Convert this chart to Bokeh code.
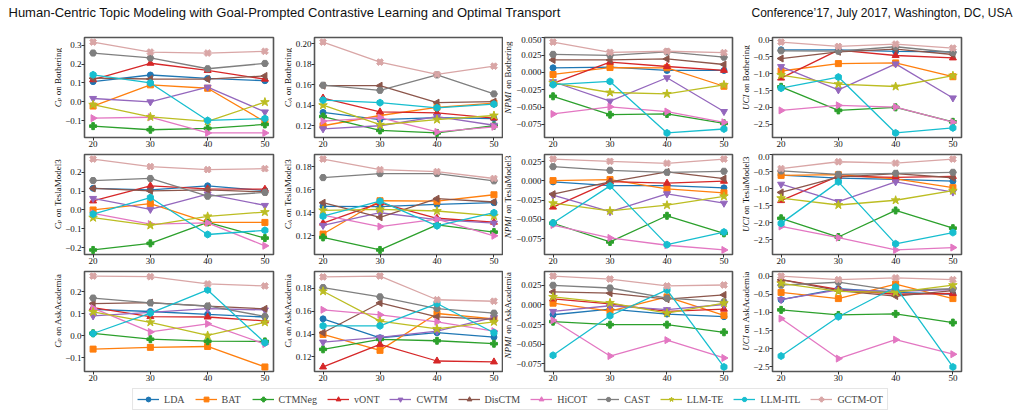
import math
from bokeh.plotting import figure
from bokeh.layouts import column, row
from bokeh.models import (FixedTicker, CustomJSTickFormatter, Range1d,
                          Legend, LegendItem, ColumnDataSource)
from bokeh.embed import file_html
from bokeh.resources import INLINE
from bokeh.core.properties import value

# ---------------- data ----------------
TOPICS = [20, 30, 40, 50]
METHODS = ["LDA", "BAT", "CTMNeg", "vONT", "CWTM", "DisCTM", "HiCOT",
           "CAST", "LLM-TE", "LLM-ITL", "GCTM-OT"]
DATASETS = ["Bothering", "TeslaModel3", "AskAcademia"]
HEADER_LEFT = "Human-Centric Topic Modeling with Goal-Prompted Contrastive Learning and Optimal Transport"
HEADER_RIGHT = "Conference\u201917, July 2017, Washington, DC, USA"

CP_BOTHERING = {
    "LDA": [0.107, 0.142, 0.124, 0.112],
    "BAT": [-0.022, 0.090, 0.072, -0.105],
    "CTMNeg": [-0.128, -0.147, -0.140, -0.119],
    "vONT": [0.117, 0.204, 0.166, 0.120],
    "CWTM": [0.018, 0.000, 0.078, -0.053],
    "DisCTM": [0.125, 0.121, 0.120, 0.137],
    "HiCOT": [-0.086, -0.081, -0.164, -0.164],
    "CAST": [0.258, 0.232, 0.175, 0.203],
    "LLM-TE": [-0.015, -0.079, -0.103, -0.001],
    "LLM-ITL": [0.143, 0.100, -0.098, -0.088],
    "GCTM-OT": [0.316, 0.263, 0.258, 0.267],
}
CA_BOTHERING = {
    "LDA": [0.133, 0.126, 0.128, 0.127],
    "BAT": [0.120, 0.130, 0.138, 0.142],
    "CTMNeg": [0.129, 0.1155, 0.113, 0.120],
    "vONT": [0.147, 0.1335, 0.1325, 0.1275],
    "CWTM": [0.117, 0.120, 0.129, 0.1205],
    "DisCTM": [0.159, 0.159, 0.1425, 0.1435],
    "HiCOT": [0.1245, 0.128, 0.114, 0.119],
    "CAST": [0.1595, 0.1545, 0.1695, 0.151],
    "LLM-TE": [0.140, 0.121, 0.126, 0.130],
    "LLM-ITL": [0.145, 0.1425, 0.1375, 0.141],
    "GCTM-OT": [0.2015, 0.182, 0.170, 0.178],
}
NPMI_BOTHERING = {
    "LDA": [0.0066, 0.0075, 0.0028, 0.0028],
    "BAT": [-0.003, 0.007, 0.0066, -0.020],
    "CTMNeg": [-0.0345, -0.061, -0.060, -0.0735],
    "vONT": [-0.016, 0.0147, 0.0085, 0.003],
    "CWTM": [-0.0135, -0.0415, -0.0077, -0.0565],
    "DisCTM": [0.018, 0.018, 0.0195, 0.0114],
    "HiCOT": [-0.060, -0.0497, -0.0565, -0.072],
    "CAST": [0.026, 0.0247, 0.0295, 0.022],
    "LLM-TE": [-0.015, -0.029, -0.031, -0.018],
    "LLM-ITL": [-0.0177, -0.013, -0.0874, -0.0817],
    "GCTM-OT": [0.0438, 0.029, 0.0305, 0.0285],
}
UCI_BOTHERING = {
    "LDA": [-0.29, -0.29, -0.34, -0.35],
    "BAT": [-0.92, -0.70, -0.68, -1.09],
    "CTMNeg": [-1.39, -2.09, -2.00, -2.43],
    "vONT": [-1.13, -0.30, -0.46, -0.53],
    "CWTM": [-0.79, -1.48, -0.71, -1.72],
    "DisCTM": [-0.55, -0.35, -0.27, -0.43],
    "HiCOT": [-2.09, -1.94, -1.99, -2.44],
    "CAST": [-0.32, -0.33, -0.20, -0.37],
    "LLM-TE": [-1.04, -1.31, -1.38, -1.06],
    "LLM-ITL": [-1.43, -1.10, -2.76, -2.61],
    "GCTM-OT": [-0.06, -0.19, -0.12, -0.24],
}
CP_TESLA = {
    "LDA": [0.115, 0.107, 0.128, 0.103],
    "BAT": [0.000, 0.034, -0.066, -0.066],
    "CTMNeg": [-0.212, -0.177, -0.066, -0.149],
    "vONT": [0.048, 0.128, 0.112, 0.110],
    "CWTM": [0.061, 0.003, 0.084, 0.024],
    "DisCTM": [0.114, 0.101, 0.107, 0.096],
    "HiCOT": [-0.018, -0.075, -0.068, -0.190],
    "CAST": [0.156, 0.167, 0.073, 0.093],
    "LLM-TE": [-0.041, -0.082, -0.034, -0.011],
    "LLM-ITL": [-0.022, 0.066, -0.130, -0.108],
    "GCTM-OT": [0.270, 0.230, 0.214, 0.219],
}
CA_TESLA = {
    "LDA": [0.1456, 0.1453, 0.1473, 0.1487],
    "BAT": [0.1215, 0.1504, 0.1500, 0.1556],
    "CTMNeg": [0.1186, 0.1077, 0.1295, 0.1232],
    "vONT": [0.1310, 0.1485, 0.1352, 0.1318],
    "CWTM": [0.1290, 0.1400, 0.1340, 0.1310],
    "DisCTM": [0.1487, 0.1360, 0.1522, 0.1493],
    "HiCOT": [0.1380, 0.1280, 0.1344, 0.1200],
    "CAST": [0.1705, 0.1740, 0.1740, 0.1677],
    "LLM-TE": [0.1420, 0.1430, 0.1415, 0.1372],
    "LLM-ITL": [0.1370, 0.1500, 0.1286, 0.1400],
    "GCTM-OT": [0.1866, 0.1774, 0.1757, 0.1697],
}
NPMI_TESLA = {
    "LDA": [-0.0013, -0.006, -0.006, -0.009],
    "BAT": [0.0004, 0.0017, -0.0103, -0.0155],
    "CTMNeg": [-0.055, -0.0793, -0.0453, -0.0681],
    "vONT": [-0.034, -0.001, -0.003, -0.0004],
    "CWTM": [-0.0185, -0.040, -0.0168, -0.029],
    "DisCTM": [-0.0172, -0.0013, 0.0116, 0.003],
    "HiCOT": [-0.0573, -0.0741, -0.0836, -0.0897],
    "CAST": [0.0185, 0.0138, 0.0112, 0.0125],
    "LLM-TE": [-0.029, -0.039, -0.0315, -0.020],
    "LLM-ITL": [-0.0547, -0.0065, -0.0828, -0.0664],
    "GCTM-OT": [0.0284, 0.0254, 0.0228, 0.0284],
}
UCI_TESLA = {
    "LDA": [-0.60, -0.69, -0.73, -0.78],
    "BAT": [-0.61, -0.59, -0.71, -0.97],
    "CTMNeg": [-1.87, -2.42, -1.64, -2.16],
    "vONT": [-1.35, -0.63, -0.67, -0.64],
    "CWTM": [-0.87, -1.38, -0.80, -1.10],
    "DisCTM": [-1.11, -0.66, -0.56, -0.68],
    "HiCOT": [-2.11, -2.44, -2.80, -2.73],
    "CAST": [-0.48, -0.58, -0.55, -0.52],
    "LLM-TE": [-1.28, -1.48, -1.34, -1.06],
    "LLM-ITL": [-2.02, -0.80, -2.62, -2.29],
    "GCTM-OT": [-0.41, -0.21, -0.25, -0.13],
}
CP_ASK = {
    "LDA": [0.120, 0.110, 0.097, 0.085],
    "BAT": [-0.061, -0.053, -0.049, -0.142],
    "CTMNeg": [0.011, -0.016, -0.025, -0.026],
    "vONT": [0.128, 0.087, 0.085, 0.067],
    "CWTM": [0.090, 0.106, 0.123, 0.117],
    "DisCTM": [0.146, 0.150, 0.134, 0.122],
    "HiCOT": [0.125, 0.017, 0.054, -0.038],
    "CAST": [0.171, 0.149, 0.135, 0.088],
    "LLM-TE": [0.108, 0.061, 0.001, 0.061],
    "LLM-ITL": [0.010, 0.103, 0.208, -0.032],
    "GCTM-OT": [0.271, 0.268, 0.235, 0.226],
}
CA_ASK = {
    "LDA": [0.1533, 0.1368, 0.1412, 0.1374],
    "BAT": [0.1397, 0.1258, 0.1580, 0.1533],
    "CTMNeg": [0.1267, 0.1354, 0.1342, 0.1316],
    "vONT": [0.1113, 0.1310, 0.1165, 0.1157],
    "CWTM": [0.1330, 0.1371, 0.1426, 0.1545],
    "DisCTM": [0.1412, 0.1672, 0.1550, 0.1528],
    "HiCOT": [0.1612, 0.1568, 0.1507, 0.1426],
    "CAST": [0.1806, 0.1725, 0.1623, 0.1583],
    "LLM-TE": [0.1774, 0.1513, 0.1446, 0.1507],
    "LLM-ITL": [0.1472, 0.1472, 0.1667, 0.1412],
    "GCTM-OT": [0.1899, 0.1907, 0.1700, 0.1687],
}
NPMI_ASK = {
    "LDA": [-0.0124, -0.0053, -0.0116, -0.0149],
    "BAT": [0.0023, -0.0078, 0.0103, -0.0132],
    "CTMNeg": [-0.0212, -0.025, -0.025, -0.0347],
    "vONT": [0.0078, 0.0013, -0.0082, -0.0053],
    "CWTM": [-0.0082, -0.001, -0.006, 0.0006],
    "DisCTM": [0.0166, 0.015, 0.0074, 0.0128],
    "HiCOT": [-0.0195, -0.0649, -0.0447, -0.0674],
    "CAST": [0.025, 0.0216, 0.0086, 0.004],
    "LLM-TE": [0.0103, 0.0027, -0.0103, 0.0023],
    "LLM-ITL": [-0.064, -0.0137, 0.0191, -0.0788],
    "GCTM-OT": [0.0368, 0.033, 0.0242, 0.0254],
}
UCI_ASK = {
    "LDA": [-0.65, -0.35, -0.45, -0.50],
    "BAT": [-0.45, -0.62, -0.22, -0.62],
    "CTMNeg": [-0.93, -1.07, -1.04, -1.28],
    "vONT": [-0.10, -0.37, -0.50, -0.48],
    "CWTM": [-0.65, -0.38, -0.42, -0.37],
    "DisCTM": [-0.10, -0.40, -0.55, -0.40],
    "HiCOT": [-1.17, -2.27, -1.75, -2.15],
    "CAST": [-0.25, -0.17, -0.40, -0.35],
    "LLM-TE": [-0.20, -0.42, -0.45, -0.25],
    "LLM-ITL": [-2.20, -1.12, -0.30, -2.50],
    "GCTM-OT": [0.00, -0.10, -0.05, -0.10],
}

Y_TICKS_CP_BOTHERING = [-0.1, 0.0, 0.1, 0.2, 0.3]
Y_TICKS_CP_OTHER = [-0.2, -0.1, 0.0, 0.1, 0.2]
Y_TICKS_CA_BOTHERING = [0.12, 0.14, 0.16, 0.18, 0.20]
Y_TICKS_CA_OTHER = [0.12, 0.14, 0.16, 0.18]
Y_TICKS_NPMI = [-0.075, -0.050, -0.025, 0.000, 0.025, 0.050]
Y_TICKS_UCI = [-2.5, -2.0, -1.5, -1.0, -0.5, 0.0]

# ---------------- styles ----------------
COLORS = {"LDA": "#1f77b4", "BAT": "#ff7f0e", "CTMNeg": "#2ca02c", "vONT": "#d62728",
          "CWTM": "#9467bd", "DisCTM": "#8c564b", "HiCOT": "#e377c2", "CAST": "#7f7f7f",
          "LLM-TE": "#bcbd22", "LLM-ITL": "#17becf", "GCTM-OT": "#d9a6a6"}
MARKERS = {"LDA": ("circle", 0.0, 6), "BAT": ("square", 0.0, 6),
           "CTMNeg": ("plus", 0.0, 7), "vONT": ("triangle", 0.0, 7),
           "CWTM": ("inverted_triangle", 0.0, 7), "DisCTM": ("triangle", math.pi / 2, 7),
           "HiCOT": ("triangle", -math.pi / 2, 7), "CAST": ("hex", 0.0, 7),
           "LLM-TE": ("star", 0.0, 9), "LLM-ITL": ("hex", math.pi / 6, 7),
           "GCTM-OT": ("plus", math.pi / 4, 7)}

SERIF = "Liberation Serif"
# per column: label strip width, label centre x, panel width, panel left/right border
LBL_W = [62, 16, 10, 15]
LBL_X = [57.0, 11.0, 4.9, 10.0]
PAN_W = [214, 211, 222, 270]
PAN_L = [20, 19, 29, 20]
PAN_R = [3, 1, 3, 59]
ROW_H, TOP, BOTTOM = 117, 1, 16
FRAME_H = ROW_H - TOP - BOTTOM
X_LO, X_HI = 18.5, 51.5

W_REG = {' ': .25, 'o': .5, 'n': .5, 'B': .667, 't': .278, 'h': .5, 'e': .444, 'r': .333,
         'i': .278, 'g': .5, 'T': .611, 's': .389, 'l': .278, 'a': .444, 'M': .889,
         'd': .5, '3': .5, 'A': .722, 'k': .5, 'c': .444, 'm': .778}
W_IT = {'C': .72, 'P': .68, 'A': .68, 'N': .80, 'M': .98, 'I': .42, 'U': .80}


def tw(s, size, italic):
    tab = W_IT if italic else W_REG
    return sum(tab.get(ch, 0.5) for ch in s) * size


def label_parts(metric, ds):
    base = 9
    rest = ("on " + ds, False, base, False, 0.35 * base)
    if metric == "CP":
        return [("C", True, base, False, 0), ("P", True, 6.5, True, 0), rest]
    if metric == "CA":
        return [("C", True, base, False, 0), ("A", True, 6.5, True, 0), rest]
    return [(metric, True, base, False, 0), rest]


def label_strip(col, parts):
    w = LBL_W[col]
    f = figure(width=w, height=ROW_H, x_range=Range1d(0, w), y_range=Range1d(0, ROW_H),
               x_axis_type=None, y_axis_type=None, output_backend="svg",
               toolbar_location=None, min_border=0)
    f.outline_line_color = None
    f.background_fill_color = "white"
    f.border_fill_color = "white"
    total = sum(tw(t, s, it) + g for t, it, s, sub, g in parts)
    # centre on the panel frame, but keep long labels clear of the strip's top edge
    y = min(BOTTOM + FRAME_H / 2 - total / 2, ROW_H - 5 - total * 1.06)
    for t, it, s, sub, g in parts:
        y += g
        f.text(x=[LBL_X[col] + (1.6 if sub else 0)], y=[y], text=[t], angle=math.pi / 2,
               text_align="left", text_baseline="middle", text_font=value(SERIF),
               text_font_style="italic" if it else "normal",
               text_font_size=value(f"{s}px"), text_color="#111111")
        y += tw(t, s, it)
    return f


def panel(data, yticks, nd, col):
    allv = [v for m in METHODS for v in data[m]]
    lo, hi = min(allv), max(allv)
    pad = 0.05 * (hi - lo)
    p = figure(width=PAN_W[col], height=ROW_H, x_range=Range1d(X_LO, X_HI),
               y_range=Range1d(lo - pad, hi + pad), output_backend="svg",
               toolbar_location=None, min_border_left=PAN_L[col],
               min_border_right=PAN_R[col], min_border_top=TOP,
               min_border_bottom=BOTTOM)
    p.grid.visible = False
    p.outline_line_color = "#555555"
    p.outline_line_width = 1.6
    p.background_fill_color = "white"
    p.border_fill_color = "white"
    for ax in (p.xaxis[0], p.yaxis[0]):
        ax.axis_line_color = None
        ax.major_tick_out = 3
        ax.major_tick_in = 0
        ax.minor_tick_out = 0
        ax.minor_tick_in = 0
        ax.major_tick_line_color = "#333333"
        ax.major_label_text_font = SERIF
        ax.major_label_text_font_size = "9px"
        ax.major_label_text_color = "#111111"
        ax.major_label_standoff = 0
    p.xaxis.ticker = FixedTicker(ticks=TOPICS)
    p.yaxis.ticker = FixedTicker(ticks=yticks)
    p.yaxis.formatter = CustomJSTickFormatter(
        code=f"return tick.toFixed({nd}).replace('-', '\\u2212');")
    for m in METHODS:
        src = ColumnDataSource(dict(x=TOPICS, y=data[m]))
        c = COLORS[m]
        mk, ang, sz = MARKERS[m]
        p.line("x", "y", source=src, line_color=c, line_width=1.3)
        p.scatter("x", "y", source=src, marker=mk, angle=ang, size=sz,
                  fill_color=c, line_color=c)
    return p


GRID = [
    [(CP_BOTHERING, Y_TICKS_CP_BOTHERING, 1, "CP"), (CA_BOTHERING, Y_TICKS_CA_BOTHERING, 2, "CA"),
     (NPMI_BOTHERING, Y_TICKS_NPMI, 3, "NPMI"), (UCI_BOTHERING, Y_TICKS_UCI, 1, "UCI")],
    [(CP_TESLA, Y_TICKS_CP_OTHER, 1, "CP"), (CA_TESLA, Y_TICKS_CA_OTHER, 2, "CA"),
     (NPMI_TESLA, Y_TICKS_NPMI, 3, "NPMI"), (UCI_TESLA, Y_TICKS_UCI, 1, "UCI")],
    [(CP_ASK, Y_TICKS_CP_OTHER, 1, "CP"), (CA_ASK, Y_TICKS_CA_OTHER, 2, "CA"),
     (NPMI_ASK, Y_TICKS_NPMI, 3, "NPMI"), (UCI_ASK, Y_TICKS_UCI, 1, "UCI")],
]

rows = []
for ri, specs in enumerate(GRID):
    children = []
    for ci, (d, t, nd, met) in enumerate(specs):
        children.append(label_strip(ci, label_parts(met, DATASETS[ri])))
        children.append(panel(d, t, nd, ci))
    rows.append(row(*children))

# header
hdr = figure(width=1020, height=36, x_range=Range1d(0, 1020), y_range=Range1d(0, 36),
             x_axis_type=None, y_axis_type=None, output_backend="svg",
             toolbar_location=None, min_border=0)
hdr.outline_line_color = None
hdr.text(x=[8], y=[24], text=[HEADER_LEFT], text_font=value("Liberation Sans"),
         text_font_size="13px", text_baseline="middle", text_align="left", text_color="#111111")
hdr.text(x=[1012], y=[24], text=[HEADER_RIGHT], text_font=value("Liberation Sans"),
         text_font_size="12px", text_baseline="middle", text_align="right", text_color="#111111")

# legend (its renderers reuse real series; their points lie outside this figure's range)
lf = figure(width=1020, height=24, x_range=Range1d(0, 1), y_range=Range1d(0, 1),
            x_axis_type=None, y_axis_type=None, output_backend="svg",
            toolbar_location=None, min_border=0)
lf.outline_line_color = None
items = []
for m in METHODS:
    src = ColumnDataSource(dict(x=TOPICS, y=CP_BOTHERING[m]))
    c = COLORS[m]
    mk, ang, sz = MARKERS[m]
    lr = lf.line("x", "y", source=src, line_color=c, line_width=1.3)
    sr = lf.scatter("x", "y", source=src, marker=mk, angle=ang, size=sz,
                    fill_color=c, line_color=c)
    items.append(LegendItem(label=m, renderers=[lr, sr]))
leg = Legend(items=items, orientation="horizontal", location="center",
             label_text_font=SERIF, label_text_font_size="10px",
             glyph_width=22, glyph_height=12, label_standoff=5, spacing=10,
             padding=4, margin=0, border_line_color="#cccccc",
             border_line_width=1, background_fill_color="white")
lf.add_layout(leg, "center")

layout = column(hdr, *rows, lf)
open("out.html", "w").write(file_html(layout, INLINE))
